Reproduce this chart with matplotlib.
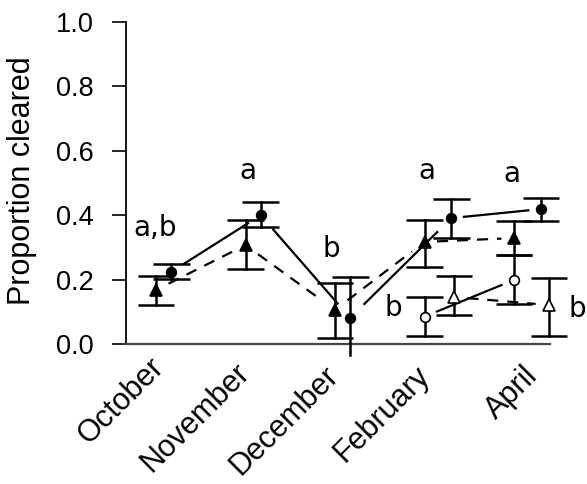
import numpy as np
import matplotlib
matplotlib.use("Agg")
import matplotlib.pyplot as plt
import matplotlib.transforms as mtrans

plt.rcParams['font.family'] = ['Liberation Sans', 'DejaVu Sans']

months = ["October", "November", "December", "February", "April"]

# filled circles (solid line)
circ_mean = [0.224, 0.400, 0.081, 0.391, 0.419]
circ_lo = [0.202, 0.363, -0.035, 0.329, 0.382]
circ_hi = [0.248, 0.441, 0.208, 0.450, 0.453]

# filled triangles (dashed line)
tri_mean = [0.168, 0.307, 0.106, 0.317, 0.329]
tri_lo = [0.121, 0.233, 0.019, 0.239, 0.276]
tri_hi = [0.211, 0.385, 0.189, 0.385, 0.382]

# open symbols, only February and April
open_months = ["February", "April"]
ocirc_mean = [0.085, 0.199]
ocirc_lo = [0.025, 0.124]
ocirc_hi = [0.146, 0.276]
otri_mean = [0.146, 0.121]
otri_lo = [0.090, 0.025]
otri_hi = [0.211, 0.205]

letters = ["a,b", "a", "b", "a", "a", "b", "b"]

# horizontal offsets of each series from the month position
circ_dx = [0.17, 0.17, 0.17, 0.30, 0.30]
tri_dx = [0.0, 0.0, 0.0, 0.0, 0.0]
ocirc_dx = [0.0, 0.0]
otri_dx = [0.33, 0.39]
letter_xy = [(-0.011, 0.335), (1.028, 0.512), (1.955, 0.270), (3.028, 0.512),
             (3.978, 0.503), (2.648, 0.087), (4.704, 0.084)]
# month label nudges in pixels (right, down)
label_shift = [(-7, 8), (-11, 13), (-12, 16), (-10, 16), (9, 17)]


def segs(ax, xs, ys, ls, shrink=0.14):
    # lines stop short of the markers
    for i in range(len(xs) - 1):
        x0, y0, x1, y1 = xs[i], ys[i], xs[i + 1], ys[i + 1]
        dx, dy = x1 - x0, y1 - y0
        ax.plot([x0 + shrink * dx, x1 - shrink * dx], [y0 + shrink * dy, y1 - shrink * dy],
                color="black", lw=1.6, ls=ls, dashes=(5, 4) if ls == "--" else (None, None),
                clip_on=False, zorder=2)


def bars(ax, xs, ms, lo, hi, marker, face):
    for x, m, l, h in zip(xs, ms, lo, hi):
        ax.plot([x, x], [l, h], color="black", lw=1.8, clip_on=False, zorder=3)
        for yc in (l, h):
            if yc >= 0:
                ax.plot([x - 0.205, x + 0.205], [yc, yc], color="black", lw=1.8,
                        clip_on=False, zorder=3, solid_capstyle="butt")
        ax.plot(x, m, marker=marker, ms=8 if marker == "^" else 7, mfc=face, mec="black",
                mew=1.2, clip_on=False, zorder=4, ls="none")


fig = plt.figure(figsize=(5.87, 4.84), dpi=100)
ax = fig.add_axes([126 / 587, 1 - 344 / 484, 424 / 587, 322 / 484])

xm = np.arange(len(months))
xc = xm + np.array(circ_dx)
xt = xm + np.array(tri_dx)
xo = np.array([months.index(m) for m in open_months])
xoc = xo + np.array(ocirc_dx)
xot = xo + np.array(otri_dx)

segs(ax, xc, circ_mean, "-")
segs(ax, xt, tri_mean, "--")
segs(ax, xoc, ocirc_mean, "-")
segs(ax, xot, otri_mean, "--")

bars(ax, xc, circ_mean, circ_lo, circ_hi, "o", "black")
bars(ax, xt, tri_mean, tri_lo, tri_hi, "^", "black")
bars(ax, xoc, ocirc_mean, ocirc_lo, ocirc_hi, "o", "white")
bars(ax, xot, otri_mean, otri_lo, otri_hi, "^", "white")

for t, (x, y) in zip(letters, letter_xy):
    ax.text(x, y, t, ha="center", va="baseline", fontsize=20, family="DejaVu Sans")

ax.set_xlim(-30 / 89.5, 394 / 89.5)
ax.set_ylim(0, 1.0)
yt = np.arange(0, 1.01, 0.2)
ax.set_yticks(yt)
ax.set_yticklabels(["%.1f" % v for v in yt], fontsize=19.5)
ax.set_xticks(xm)
ax.set_xticklabels(months, rotation=45, ha="right", va="top", rotation_mode="anchor", fontsize=22)
ax.tick_params(axis="y", length=10, width=1.2, direction="out", pad=13.5)
ax.tick_params(axis="x", length=0, pad=0)
for lab, (sx, sy) in zip(ax.get_xticklabels(), label_shift):
    off = mtrans.ScaledTranslation(sx / 100, -sy / 100, fig.dpi_scale_trans)
    lab.set_transform(lab.get_transform() + off)

ax.set_ylabel("Proportion cleared", fontsize=22, va="center", ha="center")
ax.yaxis.set_label_coords((22.5 - 126) / 424, (344 - 181) / 322)

for s in ["top", "right"]:
    ax.spines[s].set_visible(False)
ax.spines["left"].set_linewidth(1.3)
ax.spines["bottom"].set_linewidth(1.6)
ax.spines["bottom"].set_color("#444444")

fig.savefig("out.png", dpi=100)
